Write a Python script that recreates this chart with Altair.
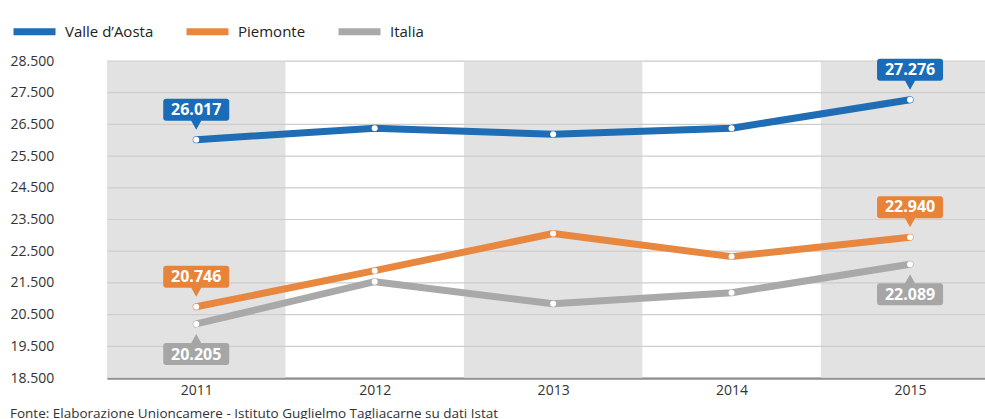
import altair as alt
import pandas as pd

years = [2011, 2012, 2013, 2014, 2015]
valle = [26017, 26380, 26190, 26380, 27276]
piemonte = [20746, 21886, 23057, 22329, 22940]
italia = [20205, 21538, 20842, 21190, 22089]
series_names = ["Valle d\u2019Aosta", "Piemonte", "Italia"]
series_colors = ["#1f6db4", "#e8873f", "#a9a9a9"]
label_colors = ["#1a6cb8", "#e8843a", "#a6a6a6"]
band_years = [2011, 2013, 2015]
y_ticks = [18500, 19500, 20500, 21500, 22500, 23500, 24500, 25500, 26500, 27500, 28500]
footer = "Fonte: Elaborazione Unioncamere - Istituto Guglielmo Tagliacarne su dati Istat"

FONT = "Open Sans"
W, H = 878, 317

rows = []
for name, vals in zip(series_names, [valle, piemonte, italia]):
    for yr, v in zip(years, vals):
        rows.append({"anno": yr, "serie": name, "valore": v})
df = pd.DataFrame(rows)
bands = pd.DataFrame({"anno": band_years})
grid = pd.DataFrame({"v": y_ticks})

xscale = alt.Scale(domain=[2010.5, 2015.42], nice=False, zero=False)
yscale = alt.Scale(domain=[18500, 28500], nice=False, zero=False)
cscale = alt.Scale(domain=series_names, range=series_colors)
lscale = alt.Scale(domain=series_names, range=label_colors)

XA = alt.Axis(values=years, format="d", title=None, ticks=False,
              grid=False, labelFontSize=14, labelColor="#333333",
              labelFont=FONT, labelPadding=5, domainColor="#555555",
              domainWidth=2)
YA = alt.Axis(values=y_ticks, title=None, ticks=False, domain=False,
              grid=False, labelAlign="left", labelPadding=97,
              labelOverlap=False, labelBound=False,
              labelFontSize=14, labelColor="#333333", labelFont=FONT,
              labelExpr="replace(format(datum.value, ',.0f'), ',', '.')")

band_layer = alt.Chart(bands).transform_calculate(
    a0="datum.anno - 0.5", a1="datum.anno + 0.5"
).mark_rect(color="#e2e2e2", clip=True).encode(
    x=alt.X("a0:Q", scale=xscale, axis=XA),
    x2="a1:Q",
    y=alt.value(0),
    y2=alt.value(H),
)

grid_layer = alt.Chart(grid).mark_rule(color="#cdcdcd", strokeWidth=1.2).encode(
    y=alt.Y("v:Q", scale=yscale, axis=YA),
    x=alt.value(0),
    x2=alt.value(W),
)

base = alt.Chart(df)
X = alt.X("anno:Q", scale=xscale, axis=XA)
Y = alt.Y("valore:Q", scale=yscale, axis=YA)

line_layer = base.mark_line(strokeWidth=7, strokeCap="round", strokeJoin="round").encode(
    x=X, y=Y,
    color=alt.Color("serie:N", scale=cscale, sort=series_names,
                    legend=alt.Legend(title=None, orient="none", direction="horizontal",
                                      legendX=-97, legendY=-54, symbolType="stroke",
                                      symbolSize=1764, symbolStrokeWidth=7,
                                      labelFont=FONT, labelFontSize=15,
                                      labelColor="#222222", labelOffset=6,
                                      columnPadding=18)),
)

dot_layer = base.mark_point(filled=True, color="white", size=36, opacity=1).encode(
    x=X, y=Y,
)

UP = ("M-0.75,-1.025 L0.75,-1.025 Q0.825,-1.025 0.825,-0.95 L0.825,-0.55 "
      "Q0.825,-0.475 0.75,-0.475 L0.125,-0.475 L0,-0.25 L-0.125,-0.475 "
      "L-0.75,-0.475 Q-0.825,-0.475 -0.825,-0.55 L-0.825,-0.95 Q-0.825,-1.025 -0.75,-1.025 Z")
DOWN = ("M-0.75,1.025 L0.75,1.025 Q0.825,1.025 0.825,0.95 L0.825,0.55 "
        "Q0.825,0.475 0.75,0.475 L0.125,0.475 L0,0.25 L-0.125,0.475 "
        "L-0.75,0.475 Q-0.825,0.475 -0.825,0.55 L-0.825,0.95 Q-0.825,1.025 -0.75,1.025 Z")

lab = base.transform_filter(
    alt.FieldOneOfPredicate(field="anno", oneOf=[2011, 2015])
).transform_calculate(
    txt="replace(format(datum.valore, ',.0f'), ',', '.')"
)

above = lab.transform_filter("datum.serie != 'Italia'")
below = lab.transform_filter("datum.serie == 'Italia'")

def box(src, shape):
    return src.mark_point(shape=shape, size=6400, filled=True, opacity=1, strokeWidth=0).encode(
        x=X, y=Y,
        color=alt.Color("serie:N", scale=lscale, legend=None),
    )

def txt(src, dy):
    return src.mark_text(font=FONT, fontSize=16, fontWeight="bold", color="white",
                         dy=dy, baseline="middle", align="center").encode(
        x=X, y=Y,
        text="txt:N",
    )

chart = alt.layer(
    band_layer, grid_layer, line_layer, dot_layer,
    box(above, UP), box(below, DOWN), txt(above, -30), txt(below, 31),
).resolve_scale(color="independent").properties(
    width=W, height=H,
    title=alt.TitleParams(footer, orient="bottom", anchor="start", frame="group",
                          dx=-97, offset=10, fontSize=13.5, font=FONT,
                          fontWeight="normal", color="#333333"),
    autosize=alt.AutoSizeParams(type="none"),
    padding={"left": 107, "top": 61, "right": 0, "bottom": 41},
).configure_view(stroke=None).configure_axisY(labelOverlap=False).configure(background="white")

chart.save("out.html", embed_options={"renderer": "svg", "actions": False})
